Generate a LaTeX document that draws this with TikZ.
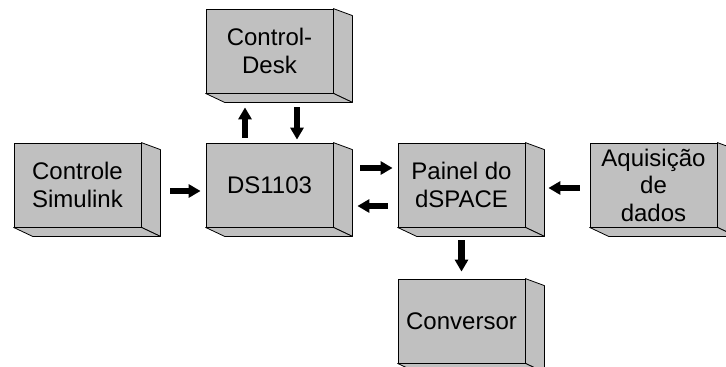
\documentclass[tikz,border=0pt]{standalone}
\usepackage{fontspec}
\setmainfont{Liberation Sans}
\usetikzlibrary{calc,arrows.meta}
\definecolor{boxgray}{RGB}{192,192,192}
\tikzset{
  box3d/.style={draw=black, fill=boxgray, line width=0.8pt, minimum width=127pt, minimum height=84pt,
    inner sep=0pt, align=center, font=\fontsize{24}{27.5}\selectfont},
  face/.style={draw=black, fill=boxgray, line width=0.8pt, line join=round},
  fatarrow/.style={line width=6.5pt, -{Triangle[width=13pt,length=12pt]}}
}
\begin{document}
\begin{tikzpicture}[x=1pt,y=-1pt]
\useasboundingbox (0,0) rectangle (726,367);
\node[box3d] (CS) at (77.5,185) {Controle\\Simulink};
\node[box3d] (DS) at (269.5,185) {DS1103};
\node[box3d] (CD) at (269.5,51) {Control-\\Desk};
\node[box3d] (PD) at (461.5,185) {Painel do\\dSPACE};
\node[box3d] (AQ) at (653.5,185) {Aquisição\\de\\dados};
\node[box3d] (CV) at (461.5,321) {Conversor};
\foreach \n in {CS,DS,CD,PD,AQ,CV}{
  \draw[face] (\n.north east) -- ($(\n.north east)+(19,7)$) -- ($(\n.south east)+(19,9)$) -- (\n.south east) -- cycle;
  \draw[face] (\n.south west) -- ($(\n.south west)+(19,9)$) -- ($(\n.south east)+(19,9)$) -- (\n.south east) -- cycle;
}
% arrows
\draw[fatarrow, shorten <=29pt, shorten >=5pt] ($(CS.east)+(0,6)$) -- ($(DS.west)+(0,6)$);
\draw[fatarrow, shorten <=27pt, shorten >=5pt] ($(DS.east)+(0,-17)$) -- ($(PD.west)+(0,-17)$);
\draw[fatarrow, shorten <=10pt, shorten >=24pt] ($(PD.west)+(0,21)$) -- ($(DS.east)+(0,21)$);
\draw[fatarrow, shorten <=10pt, shorten >=23pt] ($(AQ.west)+(0,3)$) -- ($(PD.east)+(0,3)$);
\draw[fatarrow, shorten <=5pt, shorten >=14pt] ($(DS.north)+(-24.5,0)$) -- ($(CD.south)+(-24.5,0)$);
\draw[fatarrow, shorten <=14pt, shorten >=3pt] ($(CD.south)+(27.5,0)$) -- ($(DS.north)+(27.5,0)$);
\draw[fatarrow, shorten <=13pt, shorten >=7pt] (PD.south) -- (CV.north);
\end{tikzpicture}
\end{document}
